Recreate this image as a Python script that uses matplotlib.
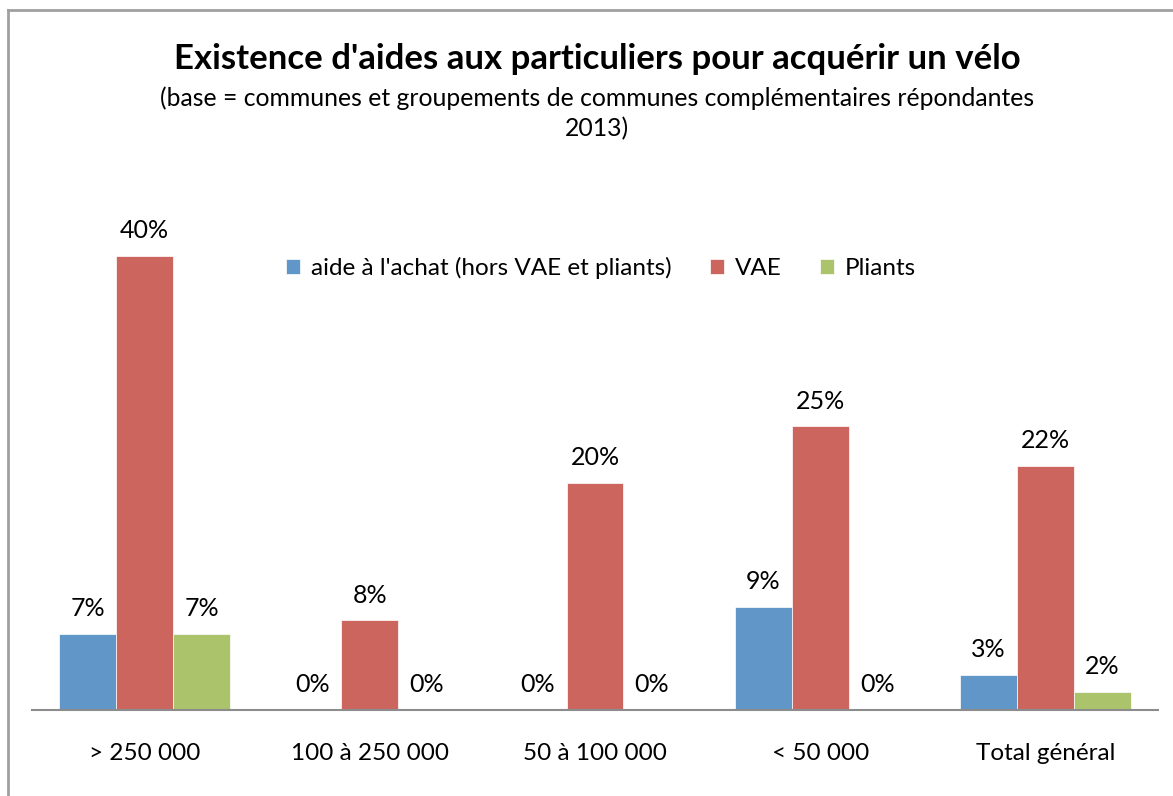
import numpy as np
import matplotlib
matplotlib.use("Agg")
import matplotlib.pyplot as plt
from matplotlib.lines import Line2D

plt.rcParams['font.family'] = ['Lato', 'DejaVu Sans']

categories = ["> 250 000", "100 à 250 000", "50 à 100 000", "< 50 000", "Total général"]
aide_achat = [6.7, 0.0, 0.0, 9.1, 3.1]
vae = [40.0, 7.9, 20.0, 25.0, 21.5]
pliants = [6.7, 0.0, 0.0, 0.0, 1.6]

series_names = ["aide à l'achat (hors VAE et pliants)", "VAE", "Pliants"]
colors = ["#6096c8", "#cc655e", "#abc46b"]

fig = plt.figure(figsize=(11.73, 7.96), dpi=100)
ax = fig.add_axes([32 / 1173, 86 / 796, (1158 - 32) / 1173, (710 - 199) / 796])

x = np.arange(len(categories))
w = 0.253
for i, (vals, name, col) in enumerate(zip([aide_achat, vae, pliants], series_names, colors)):
    pos = x + (i - 1) * w
    ax.bar(pos, vals, width=w, color=col, label=name, edgecolor="white", linewidth=0.5)
    for px, v in zip(pos, vals):
        ax.annotate(f"{v:.0f}%", (px, v), xytext=(0, 18), textcoords="offset points",
                    ha="center", va="center", fontsize=18)

ax.set_xlim(-0.5, len(categories) - 0.5)
ax.set_ylim(0, 45)
ax.set_yticks([])
for s in ["top", "right", "left"]:
    ax.spines[s].set_visible(False)
ax.spines["bottom"].set_color("#8c8c8c")
ax.spines["bottom"].set_linewidth(1.5)
ax.set_xticks(x)
ax.set_xticklabels(categories, fontsize=17.5)
ax.tick_params(axis="x", length=0, pad=24)

ax.legend(loc="center", bbox_to_anchor=(601 / 1173, 1 - 268 / 796), bbox_transform=fig.transFigure,
          ncol=3, frameon=False, fontsize=17.5, handlelength=0.55, handleheight=0.55,
          handletextpad=0.45, columnspacing=1.6)

fig.text(597 / 1173, 1 - 59 / 796, "Existence d'aides aux particuliers pour acquérir un vélo",
         ha="center", va="center", fontsize=25, fontweight="bold")
fig.text(597 / 1173, 1 - 98 / 796, "(base = communes et groupements de communes complémentaires répondantes",
         ha="center", va="center", fontsize=17.8)
fig.text(597 / 1173, 1 - 129 / 796, "2013)", ha="center", va="center", fontsize=17.8)

# chart area border (top and left edges visible)
fig.add_artist(Line2D([8 / 1173, 8 / 1173], [0, 1 - 10 / 796], transform=fig.transFigure,
                      color="#a0a0a0", linewidth=2))
fig.add_artist(Line2D([8 / 1173, 1], [1 - 10 / 796, 1 - 10 / 796], transform=fig.transFigure,
                      color="#a0a0a0", linewidth=2))

fig.savefig("out.png", dpi=100)
